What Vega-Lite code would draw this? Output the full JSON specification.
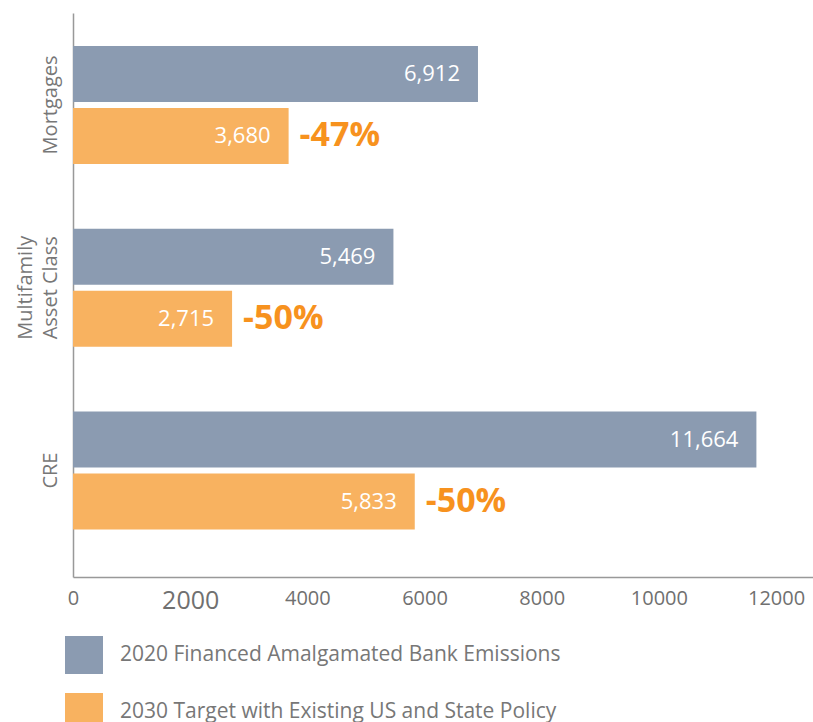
{
  "$schema": "https://vega.github.io/schema/vega-lite/v6.json",
  "autosize": {"type": "none"},
  "padding": {"left": 73, "top": 13, "right": 0, "bottom": 145},
  "width": 740,
  "height": 564,
  "config": {
    "view": {"stroke": null},
    "font": "Open Sans"
  },
  "data": {
    "values": [
      {"category": "Mortgages", "series": "2020 Financed Amalgamated Bank Emissions", "value": 6912, "pct": ""},
      {"category": "Mortgages", "series": "2030 Target with Existing US and State Policy", "value": 3680, "pct": "-47%"},
      {"category": "Multifamily|Asset Class", "series": "2020 Financed Amalgamated Bank Emissions", "value": 5469, "pct": ""},
      {"category": "Multifamily|Asset Class", "series": "2030 Target with Existing US and State Policy", "value": 2715, "pct": "-50%"},
      {"category": "CRE", "series": "2020 Financed Amalgamated Bank Emissions", "value": 11664, "pct": ""},
      {"category": "CRE", "series": "2030 Target with Existing US and State Policy", "value": 5833, "pct": "-50%"}
    ]
  },
  "encoding": {
    "y": {
      "field": "category",
      "type": "nominal",
      "sort": ["Mortgages", "Multifamily|Asset Class", "CRE"],
      "scale": {"paddingInner": 0.355, "paddingOuter": 0.22, "align": 0.41},
      "axis": {
        "title": null,
        "ticks": false,
        "domainColor": "#999999",
        "domainWidth": 1.5,
        "labelExpr": "split(datum.label, '|')",
        "labelAngle": 270,
        "labelAlign": "center",
        "labelBaseline": "bottom",
        "labelPadding": {"condition": {"test": "datum.value == 'Multifamily|Asset Class'", "value": 38}, "value": 13},
        "labelFontSize": 20,
        "labelLineHeight": 25,
        "labelColor": "#777777"
      }
    },
    "yOffset": {
      "field": "series",
      "type": "nominal",
      "sort": ["2020 Financed Amalgamated Bank Emissions", "2030 Target with Existing US and State Policy"],
      "scale": {"paddingInner": 0.097}
    },
    "x": {
      "field": "value",
      "type": "quantitative",
      "scale": {"domain": [0, 12630], "nice": false},
      "axis": {
        "title": null,
        "values": [0, 2000, 4000, 6000, 8000, 10000, 12000],
        "format": "d",
        "grid": false,
        "ticks": false,
        "domainColor": "#999999",
        "domainWidth": 1.5,
        "labelPadding": 11,
        "labelFontSize": {"condition": {"test": "datum.value == 2000", "value": 25}, "value": 20},
        "labelColor": "#707070",
        "labelFlush": false
      }
    }
  },
  "layer": [
    {
      "mark": {"type": "bar"},
      "encoding": {
        "color": {
          "field": "series",
          "type": "nominal",
          "sort": ["2020 Financed Amalgamated Bank Emissions", "2030 Target with Existing US and State Policy"],
          "scale": {"range": ["#8B9BB1", "#F8B260"]},
          "legend": {
            "title": null,
            "orient": "none",
            "legendX": -8,
            "legendY": 623,
            "direction": "vertical",
            "symbolType": "square",
            "symbolSize": 1444,
            "symbolStrokeWidth": 0,
            "labelFontSize": 21,
            "labelColor": "#777777",
            "labelOffset": 17,
            "rowPadding": 19,
            "labelLimit": 700
          }
        }
      }
    },
    {
      "mark": {"type": "text", "align": "right", "baseline": "middle", "dx": -18, "fontSize": 22, "color": "white"},
      "encoding": {
        "text": {"field": "value", "type": "quantitative", "format": ","}
      }
    },
    {
      "transform": [{"filter": "datum.pct != ''"}],
      "mark": {"type": "text", "align": "left", "baseline": "middle", "dx": 11, "fontSize": 34, "fontWeight": "bold", "color": "#F7921E"},
      "encoding": {
        "text": {"field": "pct", "type": "nominal"}
      }
    }
  ]
}
